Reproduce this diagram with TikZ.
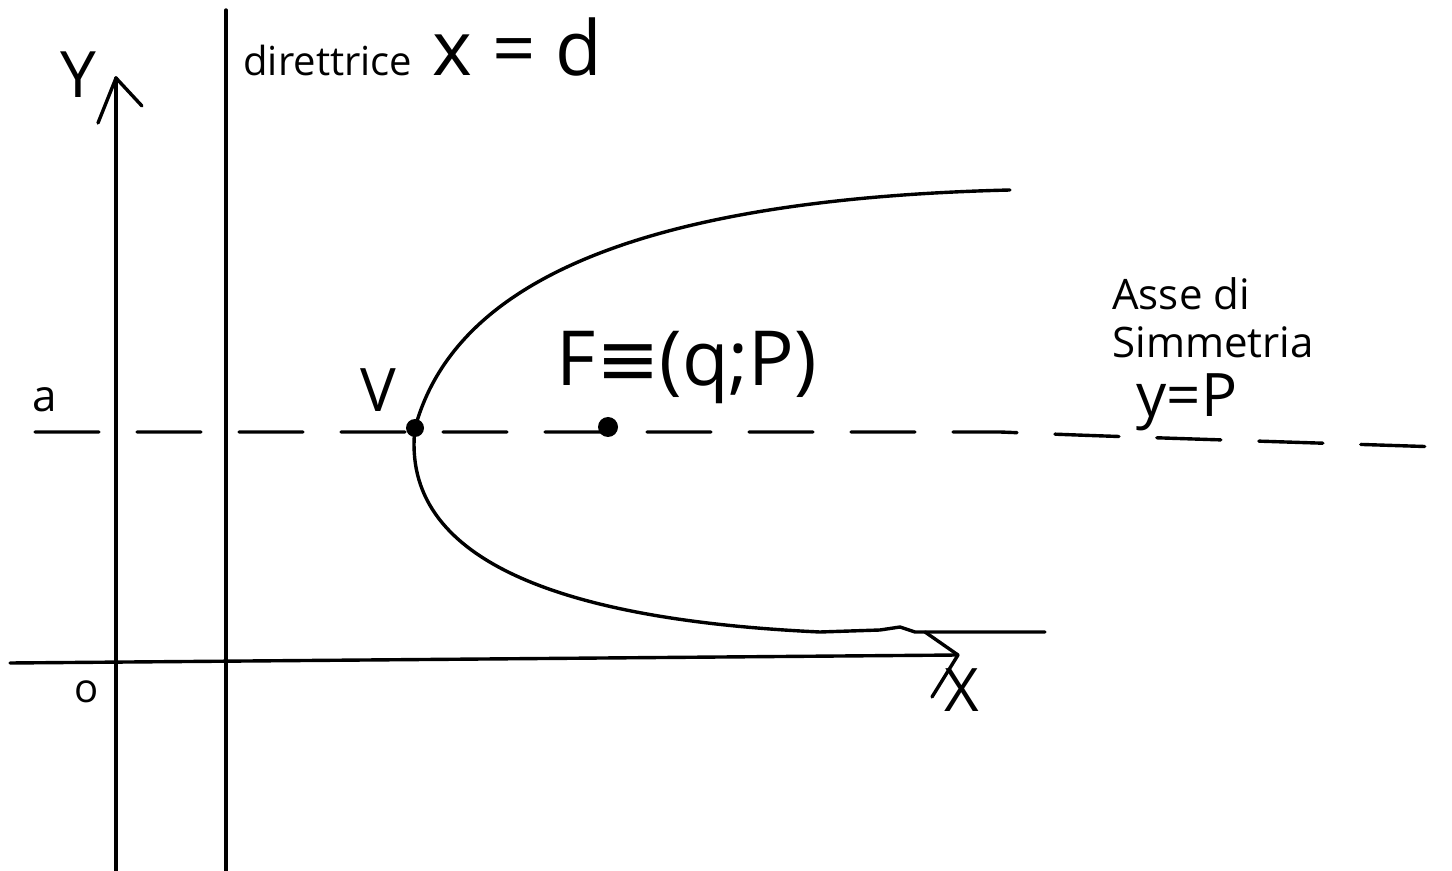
\documentclass[tikz,border=0pt]{standalone}
\usepackage{fontspec}
\setmainfont{Open Sans}
\newfontfamily\dvfont{DejaVu Sans}
\usetikzlibrary{arrows.meta}
\begin{document}
\begin{tikzpicture}[x=0.5pt,y=-0.5pt,
  stroke/.style={line width=1.7pt,line cap=round,line join=round},
  axisdash/.style={stroke,dash pattern=on 32pt off 19pt},
  lbl/.style={inner sep=0pt,font=\fontsize{#1}{#1}\selectfont},
  lbl/.default=20]
\useasboundingbox (0,0) rectangle (1452,871);
% coordinates
\coordinate (ybot) at (116,871);
\coordinate (ytop) at (116,78);
\coordinate (dtop) at (226,10);
\coordinate (dbot) at (226,871);
\coordinate (xl) at (10,663);
\coordinate (xr) at (958,655);
\coordinate (al) at (35,432);
\coordinate (ar) at (1440,447);
% axes
\draw[stroke] (ybot) -- (ytop);
\draw[stroke] (ytop) ++(-18,45) -- (ytop) -- ++(26,28);
\draw[stroke] (dbot) -- (dtop);
\draw[stroke] (xl) -- (xr);
\draw[stroke] (925,632) -- (xr) -- (932,697);
% axis of symmetry
\draw[axisdash] (al) -- (1000,432) .. controls (1100,436) .. (ar);
% parabola
\node[circle,fill,inner sep=0pt,minimum size=9pt] (V) at (415,428) {};
\draw[stroke] (V.center) .. controls (450,300) and (600,200) .. (1010,190);
\draw[stroke] (V.center) .. controls (400,560) and (560,620) .. (820,632)
   -- (880,630) -- (900,627) -- (915,632) -- (1045,632);
% focus
\node[circle,fill,inner sep=0pt,minimum size=10pt] (F) at (608,427) {};
% labels
\node[lbl=32] (Ylbl) at (78,75) {Y};
\node[lbl=30] (Vlbl) at (378,390) {V};
\node[lbl=22] (albl) at (45,400) {a};
\node[lbl=20] (Olbl) at (87,692) {o};
\node[lbl=30] (Xlbl) at (962,690) {X};
\node[lbl=20,anchor=base west] (dir) at (243,76) {direttrice\ \ \fontsize{38}{38}\selectfont x = d};
\node[lbl=38] (Flbl) at (687,368) {F{\dvfont ≡}(q;P)};
\node[lbl=21,align=left] (asse) at (1213,318) {Asse di\\[3pt]Simmetria};
\node[lbl=30] (ylbl) at (1187,402) {y=P};
\end{tikzpicture}
\end{document}
